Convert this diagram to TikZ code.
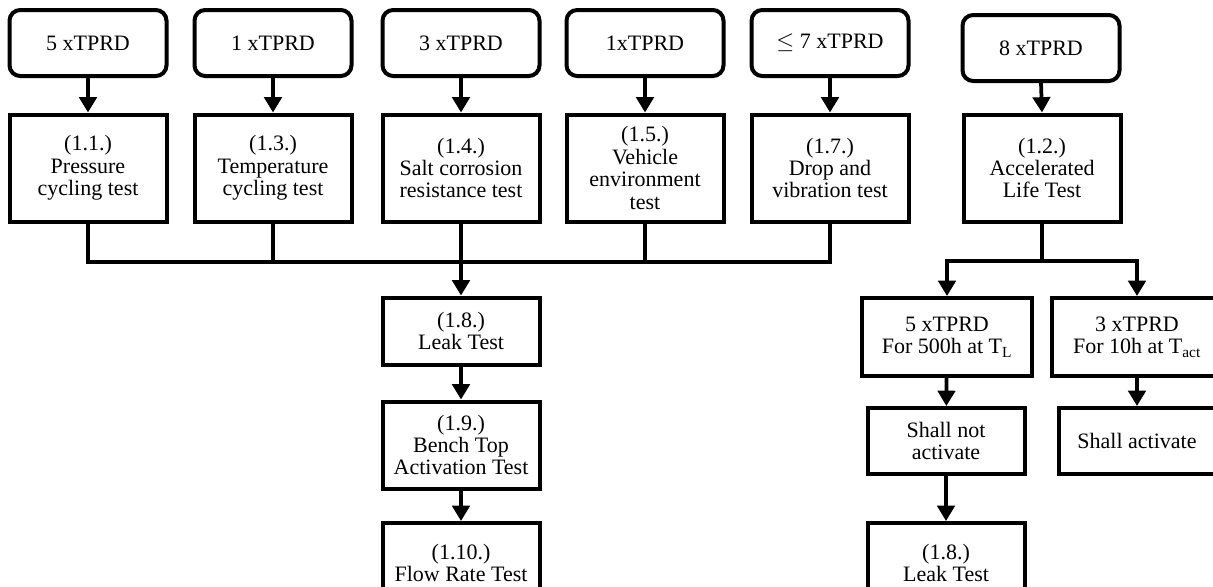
\documentclass[tikz,border=0pt]{standalone}
\usepackage{fontspec}
\setmainfont{Liberation Serif}
\usetikzlibrary{arrows.meta}

\begin{document}
\begin{tikzpicture}[x=0.75pt, y=-0.75pt,
	font=\fontsize{16.5}{16.8}\selectfont,
	box/.style={draw, line width=3pt, align=center, inner sep=2pt,
		minimum width=157*0.75pt},
	lot/.style={box, rounded corners=8pt, minimum height=66*0.75pt},
	testbox/.style={box, minimum height=107*0.75pt},
	conn/.style={line width=2.8pt},
	arr/.style={conn, -{Triangle[width=13pt,length=11.5pt]}}]
	\useasboundingbox (0,0) rectangle (1213,586);
	% samples
	\node [lot] (s11) at (88, 43) {5 xTPRD};
	\node [lot] (s13) at (273, 43) {1 xTPRD};
	\node [lot] (s14) at (461, 43) {3 xTPRD};
	\node [lot] (s15) at (645, 43) {1xTPRD};
	\node [lot] (s17) at (830, 43) {$\leq$ 7 xTPRD};
	\node [lot] (s12) at (1041, 48) {8 xTPRD};
	% tests
	\node [testbox] (t11) at (88, 168) {(1.1.)\\Pressure\\cycling test};
	\node [testbox] (t13) at (273, 168) {(1.3.)\\Temperature\\cycling test};
	\node [testbox] (t14) at (461, 168) {(1.4.)\\Salt corrosion\\resistance test};
	\node [testbox] (t15) at (645, 168) {(1.5.)\\Vehicle\\environment\\test};
	\node [testbox] (t17) at (830, 168) {(1.7.)\\Drop and\\vibration test};
	\node [testbox] (t12) at (1042, 168) {(1.2.)\\Accelerated\\Life Test};
	\foreach \n in {11,13,14,15,17,12}
		\draw [arr] (s\n.south) -- (t\n.north);
	% left branch
	\coordinate (bus) at (461, 262);
	\node [box, minimum height=67*0.75pt] (leak) at (461, 331) {(1.8.)\\Leak Test};
	\node [box, minimum height=87*0.75pt] (bench) at (461, 445) {(1.9.)\\Bench Top\\Activation Test};
	\node [box, minimum height=80*0.75pt] (flow) at (461, 563) {(1.10.)\\Flow Rate Test};
	\draw [conn] (t11.south) |- (t17.south |- bus) -- (t17.south);
	\foreach \n in {13,14,15}
		\draw [conn] (t\n.south) -- (t\n.south |- bus);
	\draw [arr] (bus) -- (leak.north);
	\draw [arr] (leak) -- (bench);
	\draw [arr] (bench) -- (flow);
	% right branch
	\coordinate (split) at (1042, 261);
	\node [box, minimum width=170*0.75pt, minimum height=78*0.75pt] (low) at (947, 337) {5 xTPRD\\For 500h at T\textsubscript{L}};
	\node [box, minimum width=170*0.75pt, minimum height=78*0.75pt] (act) at (1137, 337) {3 xTPRD\\For 10h at T\textsubscript{act}};
	\node [box, minimum height=66*0.75pt] (noact) at (946, 441) {Shall not\\activate};
	\node [box, minimum height=66*0.75pt] (yesact) at (1137, 441) {Shall activate};
	\node [box, minimum height=80*0.75pt] (leak2) at (946, 563) {(1.8.)\\Leak Test};
	\draw [conn] (t12.south) -- (split);
	\draw [arr] (split) -| (low.north);
	\draw [arr] (split) -| (act.north);
	\draw [arr] (low) -- (noact);
	\draw [arr] (act) -- (yesact);
	\draw [arr] (noact) -- (leak2);
\end{tikzpicture}
\end{document}
